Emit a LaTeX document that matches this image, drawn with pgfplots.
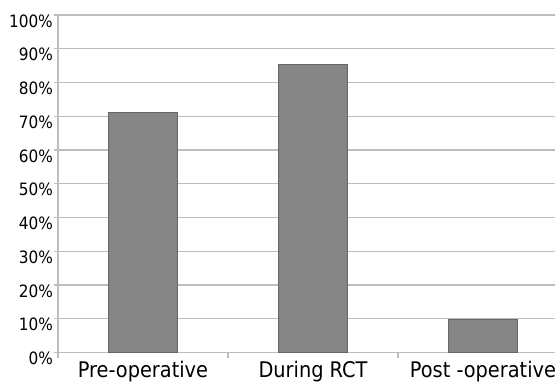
\documentclass[border=0pt]{standalone}
\usepackage{pgfplots}
\pgfplotsset{compat=1.18}
\usepackage{fontspec}
\setmainfont{DejaVu Sans Condensed}
\definecolor{barfill}{HTML}{858585}
\definecolor{baredge}{HTML}{666666}
\definecolor{gridc}{HTML}{BDBDBD}
\begin{document}
\begin{tikzpicture}[x=1pt,y=1pt]
\path[use as bounding box] (0,0) rectangle (555,382);
\begin{axis}[
  at={(58pt,29.5pt)}, anchor=south west,
  scale only axis, width=510pt, height=337.5pt,
  xmin=-0.5, xmax=2.5, ymin=0, ymax=100,
  axis lines*=left,
  axis line style={draw=gridc, line width=1.2pt},
  ytick={0,10,...,100},
  yticklabel={\pgfmathprintnumber{\tick}\%},
  /pgf/number format/assume math mode=true,
  ymajorgrids, grid style={draw=gridc, line width=1.2pt},
  y tick style={draw=gridc, line width=1.2pt},
  major tick length=4pt, tick align=outside,
  yticklabel style={font=\fontsize{17}{19}\selectfont, yshift=-6pt, inner sep=1pt},
  xtick={0,1,2},
  xticklabels={Pre-operative, During RCT, Post -operative},
  major x tick style={draw=none},
  minor xtick={-0.5,0.5,1.5,2.5},
  minor x tick style={draw=gridc, line width=1.2pt},
  minor tick length=6pt,
  xticklabel style={font=\fontsize{21.5}{24}\selectfont, inner sep=1pt, yshift=-3pt},
  clip=false,
]
\addplot[ybar, bar width=69pt, fill=barfill, draw=baredge, line width=0.8pt]
  coordinates {(0,71) (1,85.3) (2,9.9)};
\end{axis}
\end{tikzpicture}
\end{document}
